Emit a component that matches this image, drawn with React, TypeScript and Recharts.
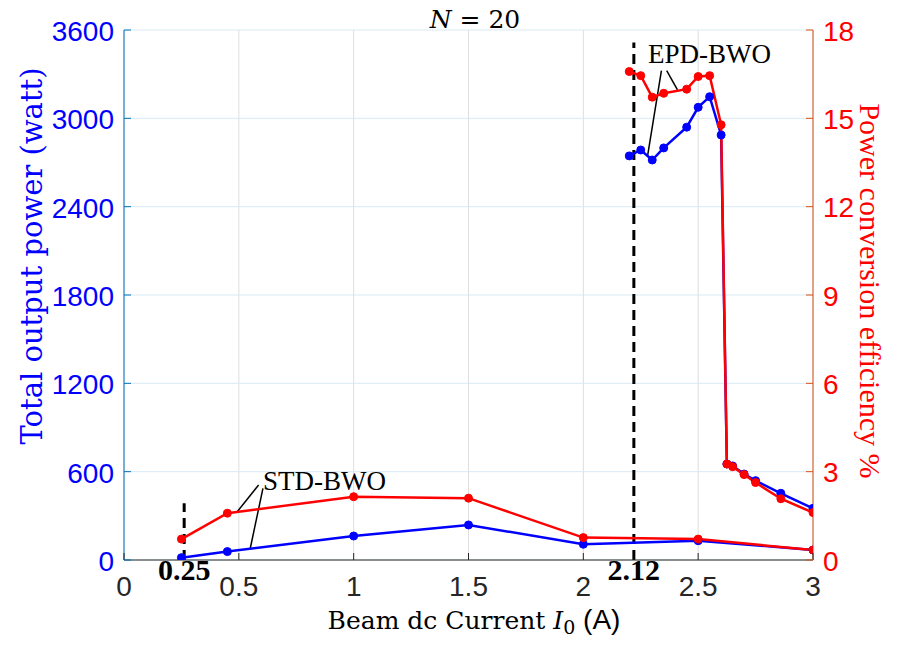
import React from 'react';
import { LineChart, Line, XAxis, YAxis, CartesianGrid, ReferenceLine, Customized } from 'recharts';

// STD-BWO curve
const stdCurrent = [0.25, 0.45, 1, 1.5, 2, 2.5, 3];
const stdPower = [16, 57, 163, 238, 107, 131, 68];
const stdEfficiency = [0.71, 1.59, 2.15, 2.1, 0.76, 0.71, 0.34];

// EPD-BWO curve
const epdCurrent = [2.2, 2.25, 2.3, 2.35, 2.45, 2.5, 2.55, 2.6, 2.625, 2.65, 2.7, 2.75, 2.86, 3];
const epdPower = [2745, 2785, 2717, 2799, 2940, 3075, 3147, 2887, 652, 639, 584, 539, 453, 351];
const epdEfficiency = [16.59, 16.45, 15.72, 15.85, 15.99, 16.42, 16.45, 14.78, 3.26, 3.17, 2.9, 2.63, 2.08, 1.61];

// axis ticks
const xTicks = [0, 0.5, 1, 1.5, 2, 2.5, 3];
const powerTicks = [0, 600, 1200, 1800, 2400, 3000, 3600];
const efficiencyTicks = [0, 3, 6, 9, 12, 15, 18];

// dashed start-current markers
const markerCurrent = [0.262, 2.22];
const markerTop = [385, 3515];
const markerLabel = ['0.25', '2.12'];

// annotation leader lines (current, power)
const leaderStart = [
  [2.34, 3324],
  [2.363, 3324],
  [0.586, 509],
  [0.605, 487],
];
const leaderEnd = [
  [2.279, 2739],
  [2.41, 3193],
  [0.491, 324],
  [0.549, 73],
];

const toRows = (xs: number[], ys: number[]) => xs.map((x, i) => ({ x, y: ys[i] }));

const stdPowerRows = toRows(stdCurrent, stdPower);
const stdEffRows = toRows(stdCurrent, stdEfficiency);
const epdPowerRows = toRows(epdCurrent, epdPower);
const epdEffRows = toRows(epdCurrent, epdEfficiency);

const SANS = '"Liberation Sans", Arial, sans-serif';
const SERIF_C = '"DejaVu Serif", serif';
const SERIF_T = '"Liberation Serif", "Times New Roman", serif';

const BLUE = '#0000FF';
const RED = '#FF0000';

const XTick = (props: any) => {
  const { x, y, payload } = props;
  return (
    <g>
      <line x1={x} x2={x} y1={y - 10} y2={y - 17} stroke="#262626" strokeWidth={1} />
      <text x={x} y={y + 26} textAnchor="middle" fontFamily={SANS} fontSize={28} fill="#262626">
        {payload.value}
      </text>
    </g>
  );
};

const LeftTick = (props: any) => {
  const { x, y, payload } = props;
  return (
    <g>
      <line x1={x + 10} x2={x + 17} y1={y} y2={y} stroke="#0072BD" strokeWidth={1} />
      <text x={x} y={y + 11} textAnchor="end" fontFamily={SANS} fontSize={28} fill={BLUE}>
        {payload.value}
      </text>
    </g>
  );
};

const RightTick = (props: any) => {
  const { x, y, payload } = props;
  return (
    <g>
      <line x1={x - 10} x2={x - 17} y1={y} y2={y} stroke="#D95319" strokeWidth={1} />
      <text x={x} y={y + 10.5} textAnchor="start" fontFamily={SANS} fontSize={28} fill={RED}>
        {payload.value}
      </text>
    </g>
  );
};

const markerLabelContent = (text: string) => (props: any) => {
  const vb = props.viewBox || {};
  const cx = (vb.x ?? 0) + (vb.width ?? 0) / 2;
  const bottom = (vb.y ?? 0) + (vb.height ?? 0);
  return (
    <text x={cx} y={bottom + 20} textAnchor="middle" fontFamily={SERIF_T} fontWeight="bold" fontSize={30} fill="#000">
      {text}
    </text>
  );
};

const Texts = () => (
  <g>
    <text x={475} y={28} textAnchor="middle" fontFamily={SERIF_C} fontSize={25} fill="#000">
      <tspan fontStyle="italic">N</tspan> = 20
    </text>
    <text x={474} y={629} textAnchor="middle" fontFamily={SERIF_C} fontSize={25} fill="#000">
      Beam dc Current <tspan fontStyle="italic">I</tspan>
      <tspan fontSize={19} dy={5}>0</tspan>
      <tspan dy={-5} fontFamily={SANS} fontSize={28}> (A)</tspan>
    </text>
    <text
      x={0}
      y={0}
      transform="translate(42,256) rotate(-90)"
      textAnchor="middle"
      fontFamily={SERIF_C}
      fontSize={29}
      fill={BLUE}
    >
      Total output power (watt)
    </text>
    <text
      x={0}
      y={0}
      transform="translate(860,291) rotate(90)"
      textAnchor="middle"
      fontFamily={SERIF_T}
      fontSize={30}
      fill={RED}
    >
      Power conversion efficiency %
    </text>
    <text x={648} y={63} fontFamily={SERIF_T} fontSize={27} fill="#000">
      EPD-BWO
    </text>
    <text x={263} y={490} fontFamily={SERIF_T} fontSize={27} fill="#000">
      STD-BWO
    </text>
  </g>
);

const dotStyle = (c: string) => ({ r: 4, fill: c, stroke: c, strokeWidth: 1 });

export default function App() {
  return (
    <div style={{ position: 'absolute', left: 0, top: 0, width: 900, height: 655, background: '#fff' }}>
      <LineChart width={900} height={655} margin={{ top: 30, right: 0, bottom: 0, left: 0 }}>
        <CartesianGrid yAxisId="left" horizontal={false} vertical stroke="#dedede" strokeWidth={1} verticalPoints={undefined} />
        <CartesianGrid yAxisId="left" horizontal vertical={false} stroke="#d9eaf5" strokeWidth={1} />
        <XAxis
          dataKey="x"
          type="number"
          domain={[0, 3]}
          ticks={xTicks}
          height={95}
          tickSize={0}
          tickMargin={10}
          tick={<XTick />}
          axisLine={{ stroke: '#262626', strokeWidth: 1 }}
          tickLine={false}
          allowDataOverflow
        />
        <YAxis
          yAxisId="left"
          orientation="left"
          type="number"
          domain={[0, 3600]}
          ticks={powerTicks}
          width={124}
          tickSize={0}
          tickMargin={10}
          tick={<LeftTick />}
          axisLine={{ stroke: '#0072BD', strokeWidth: 1 }}
          tickLine={false}
          allowDataOverflow
        />
        <YAxis
          yAxisId="right"
          orientation="right"
          type="number"
          domain={[0, 18]}
          ticks={efficiencyTicks}
          width={87}
          tickSize={0}
          tickMargin={10}
          tick={<RightTick />}
          axisLine={{ stroke: '#D95319', strokeWidth: 1 }}
          tickLine={false}
          allowDataOverflow
        />
        {markerCurrent.map((mx, i) => (
          <ReferenceLine
            key={'m' + i}
            yAxisId="left"
            segment={[
              { x: mx, y: 0 },
              { x: mx, y: markerTop[i] },
            ]}
            stroke="#000"
            strokeWidth={3}
            strokeDasharray="10 6"
            label={{ content: markerLabelContent(markerLabel[i]) } as any}
          />
        ))}
        {leaderStart.map((s, i) => (
          <ReferenceLine
            key={'l' + i}
            yAxisId="left"
            segment={[
              { x: s[0], y: s[1] },
              { x: leaderEnd[i][0], y: leaderEnd[i][1] },
            ]}
            stroke="#000"
            strokeWidth={1.5}
          />
        ))}
        <Line
          yAxisId="left"
          data={stdPowerRows}
          dataKey="y"
          type="linear"
          stroke={BLUE}
          strokeWidth={2.5}
          dot={dotStyle(BLUE)}
          activeDot={false}
          isAnimationActive={false}
        />
        <Line
          yAxisId="left"
          data={epdPowerRows}
          dataKey="y"
          type="linear"
          stroke={BLUE}
          strokeWidth={2.5}
          dot={dotStyle(BLUE)}
          activeDot={false}
          isAnimationActive={false}
        />
        <Line
          yAxisId="right"
          data={stdEffRows}
          dataKey="y"
          type="linear"
          stroke={RED}
          strokeWidth={2.5}
          dot={dotStyle(RED)}
          activeDot={false}
          isAnimationActive={false}
        />
        <Line
          yAxisId="right"
          data={epdEffRows}
          dataKey="y"
          type="linear"
          stroke={RED}
          strokeWidth={2.5}
          dot={dotStyle(RED)}
          activeDot={false}
          isAnimationActive={false}
        />
        <Customized component={Texts} />
      </LineChart>
    </div>
  );
}
